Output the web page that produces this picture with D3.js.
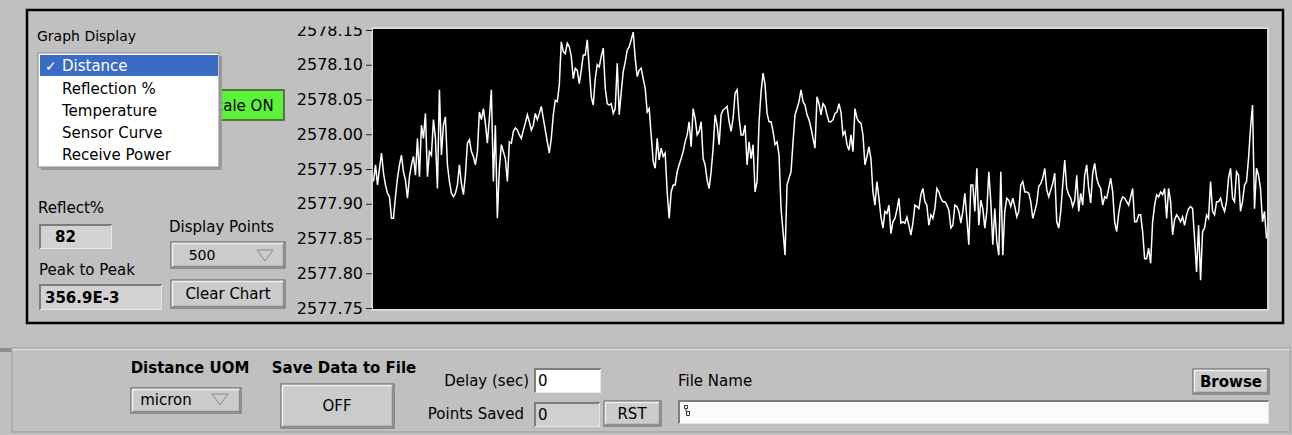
<!DOCTYPE html>
<html>
<head>
<meta charset="utf-8">
<script src="https://cdn.jsdelivr.net/npm/d3@7"></script>
<style>
  html, body { margin: 0; padding: 0; background: #c0c0c0; }
  svg { display: block; font-family: "DejaVu Sans", sans-serif; }
</style>
</head>
<body>
<svg id="panel" width="1292" height="435"></svg>
<script>
// ---- data ----
const yTicks = [2577.75, 2577.80, 2577.85, 2577.90, 2577.95, 2578.00, 2578.05, 2578.10, 2578.15];
const graphOptions = ["Distance", "Reflection %", "Temperature", "Sensor Curve", "Receive Power"];
const selectedOption = 0;
const reflectPercent = 82;
const displayPoints = 500;
const distanceUnit = "micron";
const delaySeconds = 0;
const pointsSaved = 0;

// distance readings (micron), oldest first
const distance = [
  2577.932,2577.956,2577.927,2577.951,2577.973,2577.944,2577.927,2577.915,2577.910,2577.879,
  2577.879,2577.910,2577.937,2577.956,2577.970,2577.946,2577.934,2577.908,2577.939,2577.956,
  2577.968,2577.941,2577.994,2577.939,2578.013,2577.994,2578.030,2577.939,2577.975,2577.970,
  2578.021,2577.994,2577.922,2578.064,2577.970,2578.013,2578.025,2577.956,2577.932,2577.915,
  2577.910,2577.915,2577.927,2577.956,2577.929,2577.913,2577.941,2577.987,2577.992,2577.975,
  2577.968,2577.956,2577.975,2578.032,2578.021,2578.037,2578.016,2577.987,2578.023,2578.064,
  2577.932,2578.013,2577.879,
  2577.951,2577.985,2577.975,2577.965,2577.932,2577.989,2577.987,2578.004,2578.009,2578.006,
  2577.999,2577.994,2578.006,2578.016,2578.028,2578.018,2578.006,2578.013,2578.030,2578.021,
  2578.030,2578.040,2578.023,2578.006,2577.989,2577.973,2577.994,2578.028,2578.049,2578.047,
  2578.071,2578.133,2578.119,2578.116,2578.131,2578.126,2578.112,2578.080,2578.095,2578.092,
  2578.073,2578.092,2578.114,2578.114,2578.136,2578.095,2578.054,2578.042,2578.080,2578.100,
  2578.097,2578.112,2578.124,2578.066,2578.044,2578.042,2578.044,2578.030,2578.037,2578.102,
  2578.028,2578.061,2578.090,
  2578.104,2578.121,2578.126,2578.136,2578.1469,2578.109,2578.083,2578.092,2578.095,2578.080,
  2578.066,2578.032,2578.037,2577.999,2577.961,2577.951,2577.994,2577.963,2577.980,2577.968,
  2577.973,2577.917,2577.879,2577.917,2577.927,2577.927,2577.946,2577.956,2577.965,2577.975,
  2577.989,2577.999,2578.018,2577.982,2578.037,2578.023,2577.999,2578.004,2578.018,2577.965,
  2577.956,2577.934,2577.922,2577.946,2577.980,2578.028,2578.013,2577.985,2578.028,2578.035,
  2578.037,2578.040,2578.018,2578.004,2578.023,2578.059,2578.064,2578.023,2577.999,2577.999,
  2578.013,2577.956,2577.989,
  2577.965,2577.985,2577.917,2577.932,2578.018,2578.061,2578.088,2578.071,2578.030,2578.018,
  2578.018,2578.004,2577.985,2577.989,2577.970,2577.893,2577.860,2577.826,2577.927,2577.937,
  2577.946,2577.989,2578.028,2578.037,2578.047,2578.064,2578.047,2578.042,2578.028,2578.021,
  2578.009,2577.994,2577.980,2578.054,2578.044,2578.028,2578.044,2578.040,2578.028,2578.018,
  2578.018,2578.021,2578.030,2578.032,2578.044,2578.032,2577.999,2578.004,2577.985,2577.977,
  2577.999,2577.975,2578.037,2578.023,2578.018,2578.016,2577.999,2577.956,2577.968,2577.982,
  2577.965,2577.917,2577.898,
  2577.932,2577.908,2577.881,2577.865,2577.889,2577.886,2577.898,2577.857,2577.874,2577.879,
  2577.891,2577.908,2577.872,2577.874,2577.872,2577.881,2577.869,2577.855,2577.872,2577.898,
  2577.896,2577.893,2577.913,2577.922,2577.903,2577.898,2577.869,2577.884,2577.879,2577.893,
  2577.922,2577.917,2577.908,2577.903,2577.903,2577.898,2577.891,2577.865,2577.869,2577.898,
  2577.896,2577.889,2577.872,2577.889,2577.915,2577.879,2577.841,2577.927,2577.927,2577.889,
  2577.951,2577.869,2577.905,2577.893,2577.865,2577.889,2577.946,2577.903,2577.841,2577.893,
  2577.846,2577.826,
  2577.946,2577.826,2577.889,2577.908,2577.905,2577.896,2577.908,2577.896,2577.881,2577.889,
  2577.927,2577.932,2577.917,2577.917,2577.915,2577.903,2577.879,2577.889,2577.901,2577.925,
  2577.929,2577.937,2577.951,2577.920,2577.910,2577.920,2577.929,2577.944,2577.874,2577.865,
  2577.889,2577.927,2577.963,2577.922,2577.913,2577.908,2577.896,2577.905,2577.941,2577.889,
  2577.915,2577.898,2577.941,2577.956,2577.922,2577.901,2577.944,2577.958,2577.937,2577.927,
  2577.922,2577.898,2577.910,2577.908,2577.922,2577.937,2577.917,2577.874,2577.860,2577.886,
  2577.903,2577.910,
  2577.908,2577.903,2577.898,2577.910,2577.922,2577.874,2577.874,2577.884,2577.884,2577.860,
  2577.821,2577.821,2577.836,2577.814,2577.874,2577.898,2577.913,2577.910,2577.917,2577.913,
  2577.922,2577.879,2577.922,2577.903,2577.855,2577.877,2577.884,2577.880,2577.874,2577.881,
  2577.869,2577.884,2577.893,2577.896,2577.893,2577.850,2577.802,2577.869,2577.790,2577.860,
  2577.865,2577.884,2577.879,2577.932,2577.889,2577.884,2577.903,2577.903,2577.908,2577.896,
  2577.889,2577.903,2577.937,2577.951,2577.908,2577.903,2577.946,2577.941,2577.889,2577.903,
  2577.927,2577.932,2577.965,2578.009,2578.042,2577.893,2577.951,2577.941,2577.922,2577.874,
  2577.889,2577.850
];

// ---- helpers ----
const svg = d3.select("#panel");
const BG = "#c0c0c0";

function label(x, y, str, opts = {}) {
  return svg.append("text")
    .attr("x", x).attr("y", y)
    .attr("dy", "0.35em")
    .attr("font-size", opts.size || 15)
    .attr("font-weight", opts.bold ? "bold" : null)
    .attr("text-anchor", opts.anchor || "start")
    .attr("fill", opts.color || "#000")
    .text(str);
}

// raised control face with a dark outline and bevelled edges
function raised(x, y, w, h, fill = "#cdcdcd") {
  svg.append("rect").attr("x", x).attr("y", y).attr("width", w).attr("height", h)
    .attr("fill", fill).attr("stroke", "#5a5a5a").attr("stroke-width", 1);
  svg.append("path")
    .attr("d", `M${x + 1.5},${y + h - 1.5}V${y + 1.5}H${x + w - 1.5}`)
    .attr("fill", "none").attr("stroke", "#f0f0f0").attr("stroke-width", 1.5);
  svg.append("path")
    .attr("d", `M${x + 1.5},${y + h - 1.5}H${x + w - 1.5}V${y + 1.5}`)
    .attr("fill", "none").attr("stroke", "#8c8c8c").attr("stroke-width", 1.5);
}

// sunken indicator / input box
function sunken(x, y, w, h, fill = "#d2d2d2") {
  svg.append("rect").attr("x", x).attr("y", y).attr("width", w).attr("height", h)
    .attr("fill", fill);
  svg.append("path")
    .attr("d", `M${x + 1},${y + h}V${y + 1}H${x + w}`)
    .attr("fill", "none").attr("stroke", "#7c7c7c").attr("stroke-width", 2);
  svg.append("path")
    .attr("d", `M${x + 1},${y + h - 0.5}H${x + w - 0.5}V${y + 1}`)
    .attr("fill", "none").attr("stroke", "#e6e6e6").attr("stroke-width", 1);
}

function downArrow(cx, cy) {
  svg.append("path")
    .attr("d", `M${cx - 8},${cy - 5}H${cx + 8}L${cx},${cy + 6}Z`)
    .attr("fill", "none").attr("stroke", "#8a8a8a").attr("stroke-width", 1);
}

// ---- panel background ----
svg.append("rect").attr("width", 1292).attr("height", 435).attr("fill", BG);

// upper cluster frame
svg.append("rect").attr("x", 27).attr("y", 10).attr("width", 1256).attr("height", 313)
  .attr("fill", "none").attr("stroke", "#000").attr("stroke-width", 2.5);

// lower control strip
svg.append("rect").attr("x", 0).attr("y", 348).attr("width", 12).attr("height", 4).attr("fill", "#8e8e8e");
svg.append("rect").attr("x", 12).attr("y", 348).attr("width", 1278).attr("height", 84)
  .attr("fill", BG).attr("stroke", "#a6a6a6").attr("stroke-width", 1.5);
svg.append("line").attr("x1", 12).attr("x2", 1290).attr("y1", 349.5).attr("y2", 349.5)
  .attr("stroke", "#dadada").attr("stroke-width", 1.5);

// ---- chart ----
const plot = { left: 373, right: 1267, top: 29, bottom: 309 };

svg.append("rect")
  .attr("x", plot.left - 1).attr("y", plot.top - 1)
  .attr("width", plot.right - plot.left + 2).attr("height", plot.bottom - plot.top + 2)
  .attr("fill", "none").attr("stroke", "#d9d9d9").attr("stroke-width", 2);
svg.append("rect")
  .attr("x", plot.left).attr("y", plot.top)
  .attr("width", plot.right - plot.left).attr("height", plot.bottom - plot.top)
  .attr("fill", "#000");

const x = d3.scaleLinear().domain([0, distance.length - 1]).range([plot.left + 0.5, plot.right - 0.5]);
const y = d3.scaleLinear().domain([2577.75, 2578.15]).range([308, 30]);

// the scale labels are cut off just under the frame's top edge
svg.append("clipPath").attr("id", "tickClip")
  .append("rect").attr("x", 280).attr("y", 26.5).attr("width", 100).attr("height", 300);

const axisG = svg.append("g")
  .attr("clip-path", "url(#tickClip)")
  .append("g")
  .attr("transform", `translate(${plot.left - 1},0)`)
  .call(d3.axisLeft(y).tickValues(yTicks).tickFormat(d3.format(".2f")).tickSize(6).tickPadding(3));
axisG.select(".domain").remove();
axisG.selectAll(".tick line").attr("stroke", "#222").attr("stroke-width", 1.2);
axisG.selectAll(".tick text")
  .attr("font-family", "\"DejaVu Sans\", sans-serif")
  .attr("font-size", 16).attr("fill", "#000");

svg.append("clipPath").attr("id", "plotClip")
  .append("rect").attr("x", plot.left).attr("y", plot.top)
  .attr("width", plot.right - plot.left).attr("height", plot.bottom - plot.top);

svg.append("path")
  .datum(distance)
  .attr("clip-path", "url(#plotClip)")
  .attr("fill", "none")
  .attr("stroke", "#fff")
  .attr("stroke-width", 1.5)
  .attr("stroke-linejoin", "miter")
  .attr("d", d3.line().x((d, i) => x(i)).y(d => y(d)));

// ---- left-side controls ----
label(37, 36, "Graph Display", { size: 14 });

// Autoscale button (partly covered by the open ring menu)
svg.append("rect").attr("x", 162).attr("y", 90).attr("width", 122).attr("height", 30)
  .attr("fill", "#5cf23a").attr("stroke", "#3a5a2a").attr("stroke-width", 1.5);
label(223, 106, "Autoscale ON", { size: 15, anchor: "middle" });

// open ring menu
svg.append("rect").attr("x", 41).attr("y", 56).attr("width", 181).attr("height", 114)
  .attr("fill", "#9a9a9a");
svg.append("rect").attr("x", 38).attr("y", 53).attr("width", 181).attr("height", 114)
  .attr("fill", "#fff").attr("stroke", "#8a8a8a").attr("stroke-width", 1);
svg.append("rect").attr("x", 40).attr("y", 55).attr("width", 178).attr("height", 21)
  .attr("fill", "#3a6cc6");
graphOptions.forEach((opt, i) => {
  const cy = 66 + i * 22.3;
  label(62, cy, opt, { size: 15, color: i === selectedOption ? "#fff" : "#000" });
  if (i === selectedOption) label(45, cy, "\u2713", { size: 14, color: "#fff" });
});

// Reflect% indicator
label(38, 208, "Reflect%", { size: 15 });
sunken(39, 224, 73, 25);
label(55, 237, String(reflectPercent), { size: 15, bold: true });

// Peak to Peak indicator, computed from the readings
const p2p = d3.max(distance) - d3.min(distance);
label(39, 270, "Peak to Peak", { size: 15 });
sunken(39, 284, 123, 26);
label(45, 298, (p2p * 1000).toFixed(1) + "E-3", { size: 15, bold: true });

// Display Points ring
label(169, 227, "Display Points", { size: 15 });
raised(171, 242, 114, 26, "#cbcbcb");
label(202, 255, String(displayPoints), { size: 14, anchor: "middle" });
downArrow(265, 255);

// Clear Chart button
raised(171, 280, 114, 28, "#cbcbcb");
label(228, 294, "Clear Chart", { size: 15, anchor: "middle" });

// ---- lower strip controls ----
label(190, 368, "Distance UOM", { size: 15, bold: true, anchor: "middle" });
raised(131, 388, 110, 25, "#cbcbcb");
label(166, 400, distanceUnit, { size: 15, anchor: "middle" });
downArrow(220, 399);

label(344, 368, "Save Data to File", { size: 15, bold: true, anchor: "middle" });
raised(281, 384, 113, 44, "#cbcbcb");
label(337, 406, "OFF", { size: 15, anchor: "middle" });

label(529, 381, "Delay (sec)", { size: 15, anchor: "end" });
sunken(534, 368, 67, 25, "#fff");
label(538, 381, String(delaySeconds), { size: 15 });

label(524, 414, "Points Saved", { size: 15, anchor: "end" });
sunken(534, 402, 66, 25, "#d0d0d0");
label(538, 415, String(pointsSaved), { size: 15 });
raised(604, 401, 57, 25, "#cbcbcb");
label(632, 414, "RST", { size: 15, anchor: "middle" });

label(678, 381, "File Name", { size: 15 });
sunken(678, 400, 591, 24, "#fbfbfb");
// path-type glyph at the start of the path box
svg.append("path")
  .attr("d", "M684.5,405.5h3v3h-3z M686,408.5v3 M686.5,411.5h3v4h-3z")
  .attr("fill", "none").attr("stroke", "#333").attr("stroke-width", 1);

raised(1193, 369, 76, 25, "#cbcbcb");
label(1231, 382, "Browse", { size: 15, bold: true, anchor: "middle" });
</script>
</body>
</html>
